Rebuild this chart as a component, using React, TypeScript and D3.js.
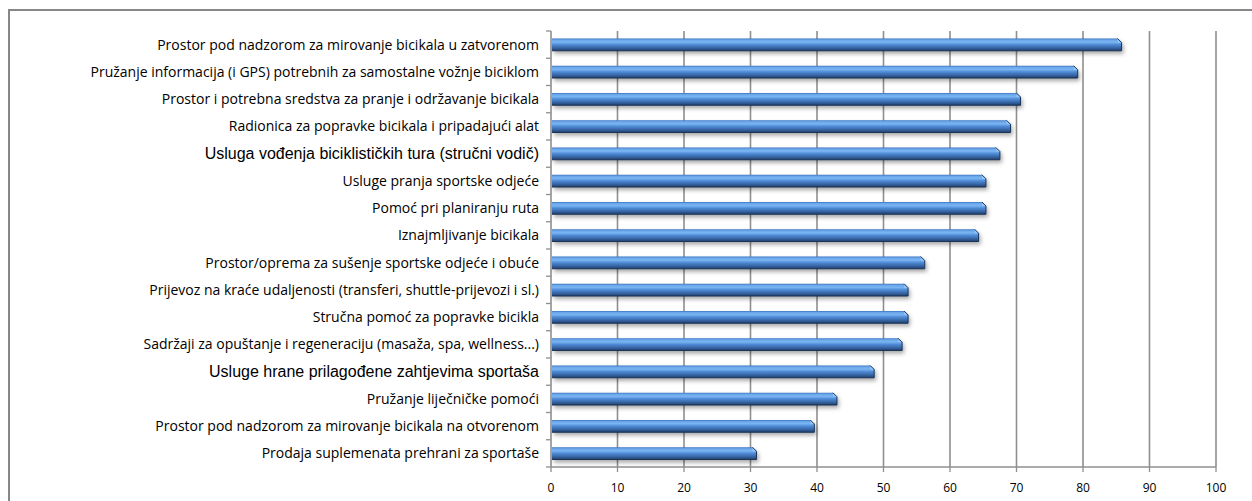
import React from "react";
import * as d3 from "d3";

const categories = [
  "Prostor pod nadzorom za mirovanje bicikala u zatvorenom",
  "Pružanje informacija (i GPS) potrebnih za samostalne vožnje biciklom",
  "Prostor i potrebna sredstva za pranje i održavanje bicikala",
  "Radionica za popravke bicikala i pripadajući alat",
  "Usluga vođenja biciklističkih tura (stručni vodič)",
  "Usluge pranja sportske odjeće",
  "Pomoć pri planiranju ruta",
  "Iznajmljivanje bicikala",
  "Prostor/oprema za sušenje sportske odjeće i obuće",
  "Prijevoz na kraće udaljenosti (transferi, shuttle-prijevozi i sl.)",
  "Stručna pomoć za popravke bicikla",
  "Sadržaji za opuštanje i regeneraciju (masaža, spa, wellness...)",
  "Usluge hrane prilagođene zahtjevima sportaša",
  "Pružanje liječničke pomoći",
  "Prostor pod nadzorom za mirovanje bicikala na otvorenom",
  "Prodaja suplemenata prehrani za sportaše",
];

const values = [85.8, 79.2, 70.6, 69.1, 67.5, 65.4, 65.4, 64.3, 56.2, 53.7, 53.7, 52.8, 48.6, 43.0, 39.6, 30.9];

// labels rendered in a different (Arial-like) font in the original
const altFontLabels = [
  "Usluga vođenja biciklističkih tura (stručni vodič)",
  "Usluge hrane prilagođene zahtjevima sportaša",
];

const xTicks = [0, 10, 20, 30, 40, 50, 60, 70, 80, 90, 100];

const W = 1252;
const H = 501;
const X0 = 551;
const X1 = 1216;
const Y0 = 31;
const Y1 = 467;

export default function App() {
  const x = d3.scaleLinear().domain([0, 100]).range([X0, X1]);
  const y = d3
    .scaleBand<string>()
    .domain(categories)
    .range([Y0, Y1])
    .paddingInner(0.55)
    .paddingOuter(0.275);
  const bh = y.bandwidth();
  const step = y.step();
  const boundaries = d3.range(categories.length + 1).map((i) => Y0 + i * step);

  return (
    <svg
      width={W}
      height={H}
      style={{ position: "absolute", left: 0, top: 0, background: "#fff" }}
    >
      <defs>
        <linearGradient id="barGrad" x1="0" y1="0" x2="0" y2="1">
          <stop offset="0" stopColor="#3a72c0" />
          <stop offset="0.12" stopColor="#6aa6ea" />
          <stop offset="0.3" stopColor="#7ab5f2" />
          <stop offset="0.5" stopColor="#4f8bd6" />
          <stop offset="0.72" stopColor="#3b6cae" />
          <stop offset="0.9" stopColor="#2b4f84" />
          <stop offset="1" stopColor="#1f3a62" />
        </linearGradient>
        <filter id="shadow" x="-5%" y="-50%" width="110%" height="250%">
          <feDropShadow dx="2" dy="3" stdDeviation="2" floodColor="#000" floodOpacity="0.35" />
        </filter>
      </defs>

      {/* outer frame */}
      <path d={`M9,${H} L9,10 L${W},10`} fill="none" stroke="#878787" strokeWidth={2} />

      {/* grid lines */}
      {xTicks.slice(1).map((t) => (
        <line key={"g" + t} x1={x(t)} x2={x(t)} y1={Y0} y2={Y1} stroke="#8f8f8f" strokeWidth={1.6} />
      ))}

      {/* y axis */}
      <line x1={X0} x2={X0} y1={Y0} y2={Y1} stroke="#8f8f8f" strokeWidth={1.6} />
      {boundaries.map((b, i) => (
        <line key={"yt" + i} x1={X0 - 5} x2={X0} y1={b} y2={b} stroke="#8f8f8f" strokeWidth={1.3} />
      ))}

      {/* x axis */}
      <line x1={X0} x2={X1} y1={Y1} y2={Y1} stroke="#8f8f8f" strokeWidth={1.6} />
      {xTicks.map((t) => (
        <line key={"xt" + t} x1={x(t)} x2={x(t)} y1={Y1} y2={Y1 + 5} stroke="#8f8f8f" strokeWidth={1.3} />
      ))}
      {xTicks.map((t) => (
        <text
          key={"xl" + t}
          x={x(t)}
          y={492}
          textAnchor="middle"
          fontFamily="'Open Sans', sans-serif"
          fontSize={12}
          fill="#000"
        >
          {t}
        </text>
      ))}

      {/* bars */}
      {categories.map((c, i) => {
        const top = y(c) as number;
        const bot = top + bh;
        const x0 = x(0) + 1;
        const xe = x(values[i]);
        const cut = 4;
        const d = `M${x0},${top} L${xe - cut},${top} L${xe},${top + cut} L${xe},${bot} L${x0},${bot} Z`;
        const bevel = `M${xe - cut},${top} L${xe},${top + cut} L${xe - cut},${top + cut} Z`;
        return (
          <g key={"b" + i}>
            <path d={d} fill="url(#barGrad)" filter="url(#shadow)" />
            <path d={bevel} fill="#9cc8f5" opacity={0.8} />
            <path
              d={`M${xe - cut},${top} L${xe},${top + cut} L${xe},${bot} L${x0},${bot}`}
              fill="none"
              stroke="#1b3558"
              strokeWidth={1}
            />
          </g>
        );
      })}

      {/* category labels */}
      {categories.map((c, i) => {
        const alt = altFontLabels.includes(c);
        return (
          <text
            key={"cl" + i}
            x={539}
            y={(y(c) as number) + bh / 2}
            dy="0.35em"
            textAnchor="end"
            fontFamily={alt ? "'Liberation Sans', Arial, sans-serif" : "'Open Sans', sans-serif"}
            fontSize={alt ? 16 : 14}
            fill="#000"
          >
            {c}
          </text>
        );
      })}
    </svg>
  );
}
